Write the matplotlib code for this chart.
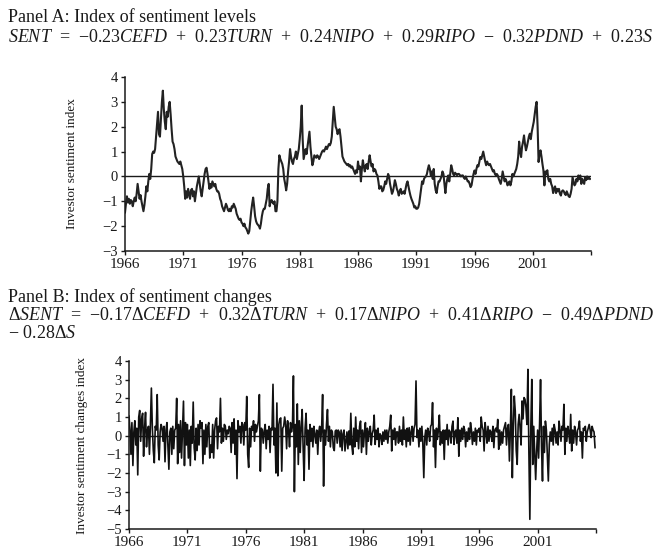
import numpy as np
import matplotlib
matplotlib.use("Agg")
import matplotlib.pyplot as plt

plt.rcParams['font.family'] = ['Liberation Serif', 'DejaVu Serif']
plt.rcParams['mathtext.fontset'] = 'custom'
plt.rcParams['mathtext.rm'] = 'Liberation Serif'
plt.rcParams['mathtext.it'] = 'Liberation Serif:italic'
plt.rcParams['mathtext.bf'] = 'Liberation Serif:bold'

# ---------------- data ----------------
start_year = 1966
tick_years = [1966, 1971, 1976, 1981, 1986, 1991, 1996, 2001]

# Panel A: monthly sentiment level index, 1966-2005
sent_levels = [
    -1.45, -1.1, -0.8, -1.05, -0.9, -1.1, -0.95, -1.0, -1.2, -1.0, -0.85, -1.0,   # 1966
    -0.7, -0.3, -0.6, -0.9, -0.75, -1.0, -1.2, -1.4, -1.15, -0.8, -0.4, -0.6,     # 1967
    -0.2, 0.1, -0.1, 0.3, 0.9, 1.0, 0.95, 1.1, 1.6, 2.1, 2.6, 1.7,                # 1968
    1.6, 2.3, 3.0, 3.45, 2.7, 2.2, 1.9, 2.6, 2.4, 2.8, 3.0, 2.5,                  # 1969
    1.9, 1.4, 1.3, 1.1, 0.8, 0.7, 0.6, 0.55, 0.5, 0.6, 0.45, 0.3,                 # 1970
    0.0, -0.4, -0.9, -0.6, -0.85, -0.5, -0.7, -0.9, -0.55, -0.5, -0.8, -0.6,      # 1971
    -1.0, -0.7, -0.4, -0.2, 0.0, -0.3, -0.6, -0.8, -0.5, -0.2, 0.1, 0.3,          # 1972
    0.35, 0.1, -0.2, -0.5, -0.3, -0.45, -0.2, -0.3, -0.4, -0.3, -0.5, -0.6,       # 1973
    -0.6, -0.7, -0.9, -1.0, -1.2, -1.3, -1.4, -1.25, -1.1, -1.2, -1.35, -1.4,     # 1974
    -1.3, -1.4, -1.2, -1.25, -1.1, -1.2, -1.3, -1.5, -1.6, -1.7, -1.75, -1.7,     # 1975
    -1.85, -1.9, -2.0, -1.9, -2.05, -2.1, -2.2, -2.3, -2.2, -1.8, -1.4, -1.1,     # 1976
    -0.85, -1.2, -1.6, -1.8, -1.9, -1.95, -2.0, -2.1, -1.9, -1.6, -1.4, -1.3,     # 1977
    -1.3, -1.1, -0.9, -0.5, -0.3, -1.2, -1.0, -0.95, -1.05, -1.1, -1.0, -1.4,     # 1978
    -1.4, -1.0, 0.3, 0.85, 0.7, 0.6, 0.5, 0.3, -0.1, -0.3, -0.56, -0.3,           # 1979
    0.2, 0.6, 1.1, 0.8, 0.6, 0.5, 0.7, 0.8, 1.0, 0.7, 0.9, 1.1,                   # 1980
    1.5, 2.0, 2.85, 1.5, 0.7, 0.9, 1.1, 0.9, 1.2, 1.5, 1.8, 1.2,                  # 1981
    0.8, 0.45, 0.6, 0.85, 0.8, 0.75, 0.85, 0.8, 0.7, 0.8, 0.9, 1.0,               # 1982
    1.05, 1.0, 1.1, 1.2, 1.1, 1.2, 1.3, 1.25, 1.35, 1.6, 2.2, 2.8,                # 1983
    2.4, 2.0, 1.9, 1.7, 1.85, 1.9, 1.6, 1.2, 0.8, 0.7, 0.6, 0.55,                 # 1984
    0.5, 0.45, 0.5, 0.4, 0.45, 0.35, 0.4, 0.3, 0.2, 0.1, 0.25, 0.15,              # 1985
    0.6, 0.3, 0.4, -0.2, 0.3, 0.65, 0.4, 0.2, 0.45, 0.5, 0.3, 0.6,                # 1986
    0.85, 0.6, 0.4, 0.5, 0.2, 0.3, 0.25, 0.1, 0.04, -0.2, -0.5, -0.4,             # 1987
    -0.4, -0.6, -0.55, -0.4, -0.2, -0.3, -0.1, 0.1, 0.0, -0.3, -0.5, -0.7,        # 1988
    -0.6, -0.4, -0.15, -0.3, -0.5, -0.6, -0.77, -0.6, -0.5, -0.7, -0.65, -0.6,    # 1989
    -0.7, -0.5, -0.3, -0.2, -0.4, -0.6, -0.77, -0.9, -1.0, -1.1, -1.25, -1.2,     # 1990
    -1.3, -1.3, -1.25, -1.1, -0.8, -0.5, -0.2, -0.3, -0.1, -0.03, 0.0, 0.1,       # 1991
    0.3, 0.45, 0.3, 0.04, 0.2, -0.1, 0.3, -0.3, -0.56, -0.67, -0.4, -0.2,         # 1992
    -0.2, -0.1, 0.0, 0.2, 0.1, -0.3, -0.67, -0.3, -0.1, 0.04, -0.2, 0.1,          # 1993
    0.45, 0.3, 0.1, 0.04, 0.15, 0.1, 0.05, 0.1, 0.1, 0.05, 0.0, 0.04,             # 1994
    0.04, -0.05, -0.1, 0.0, -0.1, -0.2, -0.2, -0.3, -0.43, -0.35, -0.1, 0.1,      # 1995
    0.24, 0.1, 0.3, 0.45, 0.4, 0.6, 0.78, 0.7, 0.85, 1.0, 0.8, 0.6,               # 1996
    0.45, 0.6, 0.5, 0.45, 0.5, 0.4, 0.3, 0.2, 0.25, 0.1, 0.04, 0.1,               # 1997
    0.04, -0.1, -0.2, -0.3, -0.1, 0.2, 0.0, -0.2, -0.1, -0.2, -0.36, -0.3,        # 1998
    -0.2, -0.36, -0.2, 0.1, 0.0, 0.1, 0.2, 0.3, 0.5, 0.8, 1.4, 1.0,               # 1999
    0.78, 1.2, 1.4, 1.65, 1.3, 1.05, 1.2, 1.4, 1.6, 1.72, 1.5, 1.8,               # 2000
    2.0, 2.19, 2.5, 2.8, 3.0, 2.0, 0.58, 0.9, 1.05, 0.8, 0.5, 0.24,               # 2001
    -0.36, 0.2, 0.1, 0.25, -0.1, -0.2, -0.1, -0.3, -0.4, -0.67, -0.5, -0.4,       # 2002
    -0.67, -0.5, -0.6, -0.5, -0.7, -0.77, -0.6, -0.56, -0.6, -0.7, -0.75, -0.6,   # 2003
    -0.7, -0.8, -0.83, -0.7, -0.5, -0.03, -0.2, -0.36, -0.3, -0.1, -0.2, 0.04,    # 2004
    -0.1, 0.04, -0.3, -0.1, -0.2, -0.3, -0.03, -0.15, 0.0, -0.1, -0.05, -0.1,     # 2005
]

# Panel B: monthly sentiment change index, 1966-2005
sent_changes = [
    1.05, 0.3, -1.0, 0.7, -1.6, 0.2, 0.8, -0.5, 0.4, -2.1, 1.0, 1.35,             # 1966
    -0.3, 0.9, 1.2, -1.1, 0.4, 1.25, -0.6, 0.3, 0.5, -1.0, 0.6, 2.55,             # 1967
    0.4, -0.8, -1.45, 0.5, 0.3, 2.2, -0.5, -1.3, 0.2, 0.6, 0.4, -0.3,             # 1968
    0.5, -1.4, 0.3, 0.7, -0.6, -1.8, 0.2, 0.4, -1.0, 0.5, -0.7, 0.3,              # 1969
    0.4, 2.0, -1.5, 0.6, -0.9, 0.8, -1.2, 0.3, 1.85, -1.6, 0.7, -0.5,             # 1970
    0.6, -1.2, 0.3, -1.6, 0.5, -0.4, 1.8, -0.65, -1.3, 0.4, -0.8, 0.6,            # 1971
    -0.5, 0.8, 0.4, 0.7, -1.5, 0.3, -1.0, 0.6, -0.6, 0.5, 0.7, -1.2,              # 1972
    -0.5, -0.9, 0.6, -1.2, 0.3, 0.8, 0.95, -0.7, 0.5, 0.2, 2.0, -0.4,             # 1973
    0.4, -0.3, 0.6, 0.5, -0.2, 0.3, 0.1, 0.5, 0.4, -0.9, 0.7, -0.4,               # 1974
    0.9, -1.0, 0.3, -2.3, 0.8, 0.2, 0.5, -0.4, 0.7, 0.6, -0.5, 0.7,               # 1975
    0.3, 2.1, -1.0, -1.7, 0.4, -0.6, 0.5, 0.3, 0.8, -0.3, 0.6, 0.2,               # 1976
    0.5, 0.8, 2.2, -1.9, 0.4, 0.3, -0.4, 0.25, 0.6, -0.7, 0.3, -0.2,              # 1977
    0.5, -0.9, 0.4, 0.3, 2.75, -0.5, 0.4, -2.0, 1.75, -2.15, 0.6, 0.9,            # 1978
    0.95, -1.9, 0.4, 0.5, 1.0, 0.6, -0.7, 0.8, 0.3, -0.6, 0.7, 0.2,               # 1979
    0.5, 3.2, -3.0, 0.6, -0.6, 1.7, -1.54, 0.8, -0.9, 0.5, 1.4, -0.7,             # 1980
    -2.4, 0.4, 1.2, -0.5, 0.3, -1.8, 0.6, -0.3, 0.4, -0.6, 0.5, 0.1,              # 1981
    -0.4, 0.3, -1.0, 0.2, 0.5, -0.3, 0.4, 2.2, -2.7, 0.3, -0.5, 0.6,              # 1982
    1.4, -0.3, 0.5, -0.6, 0.3, 0.2, -0.65, -0.8, 0.25, 0.3, -0.4, 0.3,            # 1983
    0.2, -0.6, 0.3, -0.8, 0.1, 0.3, -0.82, -0.3, 0.2, -0.7, 0.25, -0.5,           # 1984
    1.2, -0.5, -1.0, 0.4, -0.6, 1.0, -0.3, 0.3, -0.7, 0.5, 0.78, -0.9,            # 1985
    0.3, -0.6, 0.2, 0.7, -1.0, 0.4, -0.3, 0.2, 0.5, -0.5, 0.1, 0.3,               # 1986
    1.1, -0.47, 0.3, -0.2, 0.4, -0.6, 0.1, 0.0, -0.47, 0.2, -0.3, 0.3,            # 1987
    -0.2, 0.3, -0.4, 0.2, 0.5, 1.1, -0.82, 0.3, -0.2, 0.4, -0.5, 0.2,             # 1988
    0.2, -0.4, 0.5, -0.3, 0.3, -0.5, 1.0, -0.2, 0.3, -0.6, 0.4, -0.3,             # 1989
    0.43, -0.5, 0.2, 0.5, -0.3, 0.4, 0.6, 2.93, -0.1, 0.3, -0.6, 0.4,             # 1990
    -0.3, 0.5, -0.4, -2.25, -0.1, 0.3, -0.5, 0.4, 0.2, -0.3, 0.5, 0.6,            # 1991
    1.77, -0.6, 0.3, -1.7, 0.4, -0.2, 0.3, 1.1, -0.5, 0.2, -0.4, 0.3,             # 1992
    -1.27, 0.3, -0.2, 0.6, -0.5, 0.3, 0.2, -0.4, 0.5, 0.78, -0.47, 0.2,           # 1993
    0.3, -0.4, 0.96, -1.1, 0.3, -0.3, 0.4, -0.2, 0.5, 0.3, -0.6, 0.2,             # 1994
    -0.3, 0.4, -0.2, 0.7, 0.3, -0.47, 0.2, -0.3, 0.4, -0.5, 0.3, 0.2,             # 1995
    0.4, -0.3, 1.0, 0.5, 0.3, -0.82, 0.7, 0.2, -0.4, 0.5, -0.3, 0.3,              # 1996
    0.2, -0.3, 0.5, -0.64, 0.3, 0.4, 0.2, 0.87, -0.73, 0.3, -0.5, 0.2,            # 1997
    -0.4, 0.3, 0.5, 0.7, -0.5, 0.4, 0.6, -1.36, 0.3, 2.48, -2.25, 0.5,            # 1998
    2.12, 1.32, -0.8, -1.54, 0.6, 1.14, 0.4, -0.5, 1.86, 0.9, 2.04, 1.95,         # 1999
    1.5, 0.6, 3.55, -0.8, -4.48, 0.4, 3.01, -1.54, 0.5, -1.0, -2.35, -0.82,       # 2000
    0.3, -1.2, 0.6, 3.0, -0.6, -2.43, 0.5, -0.9, 0.78, 0.3, -1.0, -2.43,          # 2001
    -0.47, 0.2, -0.3, 0.4, -0.5, 0.6, 0.3, -0.4, 0.2, -0.5, 0.78, 0.3,            # 2002
    -0.3, 0.5, 0.3, 1.68, -1.0, 0.4, -0.3, 0.5, 0.2, -0.4, 1.14, -0.82,           # 2003
    0.3, -0.4, 0.5, 0.2, -0.5, 0.3, 0.4, 0.78, -0.3, 0.2, -1.2, 0.4,              # 2004
    0.3, 0.5, -0.3, 0.2, 0.4, 0.6, 0.3, -0.1, 0.5, 0.3, 0.2, -0.64,               # 2005
]

title_a = "Panel A: Index of sentiment levels"
eq_a = (r"$\mathit{SENT}$  =  $-$0.23$\mathit{CEFD}$  +  0.23$\mathit{TURN}$  +  "
        r"0.24$\mathit{NIPO}$  +  0.29$\mathit{RIPO}$  $-$  0.32$\mathit{PDND}$  +  0.23$\mathit{S}$")
title_b = "Panel B: Index of sentiment changes"
eq_b1 = (r"$\Delta\mathit{SENT}$  =  $-$0.17$\Delta\mathit{CEFD}$  +  0.32$\Delta\mathit{TURN}$  +  "
         r"0.17$\Delta\mathit{NIPO}$  +  0.41$\Delta\mathit{RIPO}$  $-$  0.49$\Delta\mathit{PDND}$")
eq_b2 = r"$-$ 0.28$\Delta\mathit{S}$"
ylabel_a = "Investor sentiment index"
ylabel_b = "Investor sentiment changes index"

# ---------------- figure ----------------
W, H = 659, 548
INK = '#1a1a1a'
fig = plt.figure(figsize=(W / 100, H / 100), dpi=100)
fig.patch.set_facecolor('white')


def px_axes(x0, x1, ytop, ybot):
    return fig.add_axes([x0 / W, 1 - ybot / H, (x1 - x0) / W, (ybot - ytop) / H])


def style(ax, ylim, yticks):
    ax.set_xlim(1966, 2006)
    ax.set_ylim(*ylim)
    ax.set_yticks(yticks)
    ax.set_yticklabels([("\u2212%d" % -t) if t < 0 else "%d" % t for t in yticks])
    ax.set_xticks(tick_years + [2006])
    ax.set_xticklabels([str(y) for y in tick_years] + [""])
    for s in ['top', 'right']:
        ax.spines[s].set_visible(False)
    for s in ['left', 'bottom']:
        ax.spines[s].set_linewidth(1.1)
        ax.spines[s].set_color(INK)
    ax.tick_params(axis='both', direction='out', length=3, width=1.0,
                   labelsize=10.5, colors=INK, pad=2)
    ax.tick_params(axis='x', labelsize=11)
    ax.axhline(0, color=INK, lw=1.0, zorder=1)


tA = start_year + np.arange(len(sent_levels)) / 12.0
tB = start_year + np.arange(len(sent_changes)) / 12.0

axA = px_axes(125, 591, 77, 251)
axA.plot(tA, sent_levels, color='#222222', lw=1.5, zorder=2)
style(axA, (-3, 4), list(range(-3, 5)))
axA.set_ylabel(ylabel_a, fontsize=9.5, color=INK)
axA.yaxis.set_label_coords(-0.10, 0.5)

axB = px_axes(129, 596, 361, 529)
axB.plot(tB, sent_changes, color='#111111', lw=1.2, zorder=2)
style(axB, (-5, 4), list(range(-5, 5)))
axB.set_ylabel(ylabel_b, fontsize=9.5, color=INK)
axB.yaxis.set_label_coords(-0.088, 0.5)

fs_t = 13
fig.text(8 / W, 1 - 18 / H, title_a, fontsize=fs_t, va='center', ha='left', color=INK)
fig.text(8 / W, 1 - 38 / H, eq_a, fontsize=fs_t, va='center', ha='left', color=INK)
fig.text(8 / W, 1 - 297 / H, title_b, fontsize=fs_t, va='center', ha='left', color=INK)
fig.text(8 / W, 1 - 316 / H, eq_b1, fontsize=fs_t, va='center', ha='left', color=INK)
fig.text(8 / W, 1 - 334 / H, eq_b2, fontsize=fs_t, va='center', ha='left', color=INK)

fig.savefig("out.png", dpi=100, facecolor='white')
